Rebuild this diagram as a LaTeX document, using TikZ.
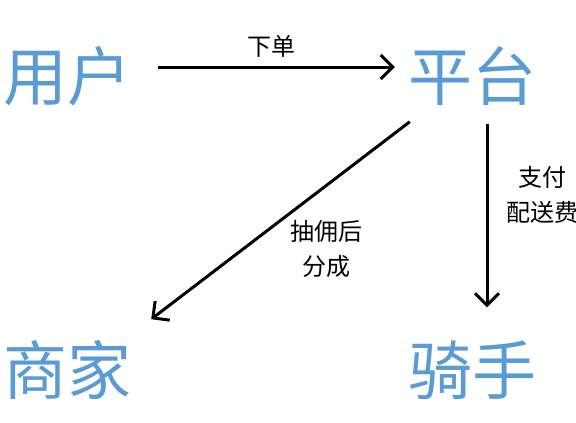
\documentclass[tikz,border=0pt]{standalone}
\usepackage{fontspec}
\setmainfont{Noto Sans CJK SC}
\usetikzlibrary{arrows.meta}
\definecolor{boxblue}{HTML}{5B9BD5}
\tikzset{
  role/.style={text=boxblue,font=\fontsize{64}{64}\selectfont,inner sep=0pt},
  pil/.style={-{Straight Barb[length=12pt,width=24pt]},line width=3pt},
  tekst/.style={font=\fontsize{24}{35}\selectfont,align=center,inner sep=0pt}
}
\begin{document}
\begin{tikzpicture}[x=1pt,y=-1pt]
\useasboundingbox (0,0) rectangle (576,423);
%roller
\node[role] (user) at(68,76) {用户};
\node[role] (platform) at(472,76) {平台};
\node[role] (merchant) at(68,370) {商家};
\node[role] (rider) at(472,370) {骑手};
%pile
\draw[pil] ([xshift=26pt,yshift=9pt]user.east)--([xshift=-13pt,yshift=9pt]platform.west);
\draw[pil] ([xshift=2pt,yshift=-16pt]platform.south west)--([shift={(19pt,21pt)}]merchant.north east);
\draw[pil] ([xshift=15pt,yshift=-18pt]platform.south)--([xshift=15pt,yshift=33pt]rider.north);
%tekster
\node[tekst] (order) at(271,46) {下单};
\node[tekst] (commission) at(326,249) {抽佣后\\分成};
\node[tekst] (fee) at(542,195) {支付\\配送费};
\end{tikzpicture}
\end{document}
